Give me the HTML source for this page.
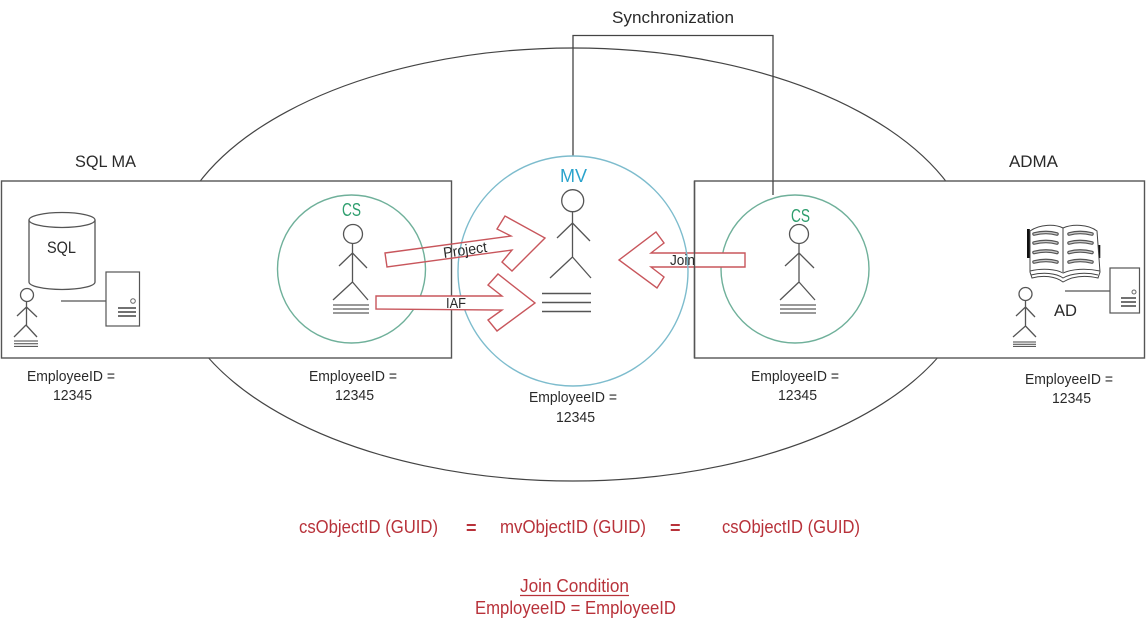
<!DOCTYPE html>
<html><head><meta charset="utf-8"><style>
html,body{margin:0;padding:0;background:#fff}
svg{display:block}
text{font-family:"Liberation Sans",sans-serif;fill:#2a2a2a}
.g{fill:none;stroke:#555;stroke-width:1.3}
.r text{fill:#b8323a}
</style></head><body>
<svg width="1146" height="630" viewBox="0 0 1146 630" xmlns="http://www.w3.org/2000/svg">
<ellipse cx="573" cy="264.5" rx="404" ry="216.5" fill="none" stroke="#444" stroke-width="1.2"/>
<path d="M573,156V35.5H773V195" fill="none" stroke="#444" stroke-width="1.3"/>
<rect x="1.500" y="181" width="450" height="177" fill="#fff" stroke="#555" stroke-width="1.4"/>
<rect x="694.500" y="181" width="450" height="177" fill="#fff" stroke="#555" stroke-width="1.4"/>
<path d="M773,181V195" stroke="#444" stroke-width="1.3"/>
<circle cx="351.500" cy="269" r="74" fill="none" stroke="#6fb09a" stroke-width="1.4"/>
<circle cx="795" cy="269" r="74" fill="none" stroke="#6fb09a" stroke-width="1.4"/>

<!-- Join arrow sits above the CS circle but below box edge and MV circle -->
<polygon points="745,253 651,253 664,243 656,232 619,260 657,288 664,277 651,267 745,267" fill="#fff" stroke="#c8565c" stroke-width="1.4"/>
<path d="M694.500,181V358" stroke="#555" stroke-width="1.4"/>
<circle cx="573" cy="271" r="115" fill="none" stroke="#7dbccd" stroke-width="1.4"/>

<!-- SQL side -->
<path d="M29,220V282A33,7.500 0 0 0 95,282V220" fill="#fff" stroke="#555" stroke-width="1.3"/>
<ellipse cx="62" cy="220" rx="33" ry="7.500" fill="#fff" stroke="#555" stroke-width="1.3"/>
<rect x="106" y="272" width="33.500" height="54" fill="#fff" stroke="#555" stroke-width="1.2"/>
<path class="g" d="M61,301H106"/>
<circle cx="133" cy="301" r="2.300" fill="none" stroke="#666"/>
<path d="M118,308H136M118,312H136M118,316H136" stroke="#444" stroke-width="1.600"/>
<circle cx="27" cy="295" r="6.500" class="g"/>
<path class="g" d="M26.500,301.500V325M26.500,307L17,316M26.500,307L37,317M26,325L14,337M26,325L37,337"/>
<path d="M14,341H38M14,343.700H38M14,346.400H38" stroke="#444" stroke-width="1"/>

<!-- AD side -->
<rect x="1027" y="229" width="2.800" height="29" fill="#111"/>
<rect x="1097" y="245" width="3.300" height="13" fill="#111"/>
<path d="M1030,231C1040,224 1055,224 1063,228C1072,224 1088,224 1097,231L1100,272L1098,278C1085,275 1073,276 1063,282C1055,276 1043,275 1032,278L1030,272Z" fill="#fff" stroke="#444" stroke-width="1"/>
<path d="M1063,228V272M1030,271C1042,268 1056,269 1063,273C1072,269 1086,268 1100,271M1031,275C1043,272 1056,273 1063,278C1072,273 1086,272 1098,275" fill="none" stroke="#444" stroke-width="1"/>
<g fill="none" stroke-linecap="round">
<path d="M1034,234C1042,232 1050,232 1057,234M1034,243C1042,241 1050,241 1057,243M1034,252.500C1042,250.500 1050,250.500 1057,252.500M1034,262C1042,260 1050,260 1057,262M1069,234C1076,232 1084,232 1092,234M1069,243C1076,241 1084,241 1092,243M1069,252.500C1076,250.500 1084,250.500 1092,252.500M1069,262C1076,260 1084,260 1092,262" stroke="#555" stroke-width="3.600"/>
<path d="M1034,234C1042,232 1050,232 1057,234M1034,243C1042,241 1050,241 1057,243M1034,252.500C1042,250.500 1050,250.500 1057,252.500M1034,262C1042,260 1050,260 1057,262M1069,234C1076,232 1084,232 1092,234M1069,243C1076,241 1084,241 1092,243M1069,252.500C1076,250.500 1084,250.500 1092,252.500M1069,262C1076,260 1084,260 1092,262" stroke="#ccc" stroke-width="1.200"/>
</g>
<rect x="1110" y="268" width="29.500" height="45" fill="#fff" stroke="#555" stroke-width="1.2"/>
<path class="g" d="M1065,291H1110"/>
<circle cx="1134" cy="292" r="2" fill="none" stroke="#666"/>
<path d="M1121,298H1136M1121,302H1136M1121,306H1136" stroke="#444" stroke-width="1.600"/>
<circle cx="1025.500" cy="294" r="6.500" class="g"/>
<path class="g" d="M1025.500,300.500V326M1025.500,307L1016,316M1025.500,307L1035,317M1025.500,326L1013,337M1025.500,326L1036,337"/>
<path d="M1013,342H1036M1013,344.200H1036M1013,346.400H1036" stroke="#444" stroke-width="1"/>

<!-- CS 1 actor -->
<circle cx="353" cy="234" r="9.500" class="g"/>
<path class="g" d="M352.500,243.500V282M352.500,253L339,266M352.500,253L367,268M352.500,282L333,300M352.500,282L368,300"/>
<path d="M333,305H369M333,309H369M333,313H369" stroke="#333" stroke-width="1.100"/>
<!-- CS 2 actor -->
<circle cx="799" cy="234" r="9.500" class="g"/>
<path class="g" d="M799,243.500V282M799,253L785,266M799,253L814,268M799,282L780,300M799,282L815,300"/>
<path d="M780,305H816M780,309H816M780,313H816" stroke="#333" stroke-width="1.100"/>
<!-- MV actor -->
<circle cx="572.700" cy="200.700" r="11" class="g"/>
<path class="g" d="M572.500,211.500V257M572.500,223L557,238M572.500,223L590,241M572.500,257L550,278M572.500,257L591,278"/>
<path d="M542,293.500H591M542,302.500H591M542,311.500H591" stroke="#555" stroke-width="1.400"/>

<!-- arrows -->
<polygon points="385,253 511,236 497,229 505,216 545,238 512,271 502,262 512,250 387,267" fill="none" stroke="#c8565c" stroke-width="1.400"/>
<polygon points="376,296 502,296 488,285 498,274 535,303 497,331 488,320 502,310 376,309" fill="#fff" stroke="#c8565c" stroke-width="1.400"/>

<text x="612" y="23" font-size="17" textLength="122" lengthAdjust="spacingAndGlyphs">Synchronization</text>
<text x="75" y="167" font-size="17" textLength="61" lengthAdjust="spacingAndGlyphs">SQL MA</text>
<text x="1009" y="167" font-size="17" textLength="49" lengthAdjust="spacingAndGlyphs">ADMA</text>
<text x="47" y="253" font-size="17" textLength="29" lengthAdjust="spacingAndGlyphs">SQL</text>
<text x="1054" y="316" font-size="17" textLength="23" lengthAdjust="spacingAndGlyphs">AD</text>
<text x="560" y="182" font-size="18" style="fill:#2aa3cc" textLength="27" lengthAdjust="spacingAndGlyphs">MV</text>
<text x="342" y="216" font-size="18" style="fill:#2e9e6e" textLength="19" lengthAdjust="spacingAndGlyphs">CS</text>
<text x="791" y="222" font-size="18" style="fill:#2e9e6e" textLength="19" lengthAdjust="spacingAndGlyphs">CS</text>
<text transform="translate(444,258) rotate(-8)" font-size="15" textLength="44" lengthAdjust="spacingAndGlyphs">Project</text>
<text x="446" y="308" font-size="15" textLength="20" lengthAdjust="spacingAndGlyphs">IAF</text>
<text x="670" y="265" font-size="15" textLength="25" lengthAdjust="spacingAndGlyphs">Join</text>

<g font-size="15">
<text x="27" y="381" textLength="88" lengthAdjust="spacingAndGlyphs">EmployeeID =</text>
<text x="53" y="400" textLength="39" lengthAdjust="spacingAndGlyphs">12345</text>
<text x="309" y="381" textLength="88" lengthAdjust="spacingAndGlyphs">EmployeeID =</text>
<text x="335" y="400" textLength="39" lengthAdjust="spacingAndGlyphs">12345</text>
<text x="529" y="402" textLength="88" lengthAdjust="spacingAndGlyphs">EmployeeID =</text>
<text x="556" y="422" textLength="39" lengthAdjust="spacingAndGlyphs">12345</text>
<text x="751" y="381" textLength="88" lengthAdjust="spacingAndGlyphs">EmployeeID =</text>
<text x="778" y="400" textLength="39" lengthAdjust="spacingAndGlyphs">12345</text>
<text x="1025" y="384" textLength="88" lengthAdjust="spacingAndGlyphs">EmployeeID =</text>
<text x="1052" y="403" textLength="39" lengthAdjust="spacingAndGlyphs">12345</text>
</g>

<g class="r" font-size="18">
<text x="299" y="533" textLength="139" lengthAdjust="spacingAndGlyphs">csObjectID (GUID)</text>
<text x="466" y="534" font-weight="bold">=</text>
<text x="500" y="533" textLength="146" lengthAdjust="spacingAndGlyphs">mvObjectID (GUID)</text>
<text x="670" y="534" font-weight="bold">=</text>
<text x="722" y="533" textLength="138" lengthAdjust="spacingAndGlyphs">csObjectID (GUID)</text>
<text x="520" y="592" textLength="109" lengthAdjust="spacingAndGlyphs">Join Condition</text>
<text x="475" y="614" textLength="201" lengthAdjust="spacingAndGlyphs">EmployeeID = EmployeeID</text>
</g>
<path d="M520,595.500H629" stroke="#b8323a" stroke-width="1.200"/>
</svg>
</body></html>
